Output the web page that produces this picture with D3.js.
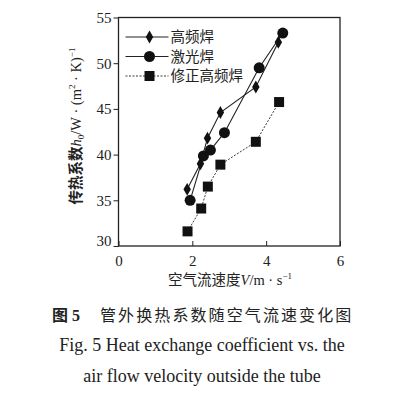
<!DOCTYPE html>
<html>
<head>
<meta charset="utf-8">
<script src="https://cdn.jsdelivr.net/npm/d3@7"></script>
<style>
  body { margin: 0; background: #fff; }
  svg { display: block; }
  text { fill: #222; }
</style>
</head>
<body>
<svg id="chart" width="402" height="395"></svg>
<script>
// series
const hfX = [1.86, 2.22, 2.41, 2.76, 3.72, 4.33];
const hfY = [36.2, 39.0, 41.8, 44.6, 47.4, 52.3];
const laserX = [1.94, 2.30, 2.49, 2.87, 3.81, 4.45];
const laserY = [35.0, 39.85, 40.5, 42.4, 49.5, 53.3];
const modX = [1.87, 2.24, 2.42, 2.76, 3.72, 4.35];
const modY = [31.6, 34.1, 36.5, 38.9, 41.4, 45.75];

const seriesNames = ["高频焊", "激光焊", "修正高频焊"];
const xTicks = [0, 2, 4, 6];
const yTicks = [30, 35, 40, 45, 50, 55];

const margin = { top: 17.5, left: 118.5, right: 62, bottom: 149 };
const W = 402, H = 395;
const width = W - margin.left - margin.right;
const height = H - margin.top - margin.bottom;

const svg = d3.select("#chart");
const serif = "Liberation Serif, DejaVu Serif, serif";
const cjk = "Noto Sans CJK SC, Noto Sans, sans-serif";
const ink = "#222";

const x = d3.scaleLinear().domain([0, 6]).range([0, width]);
const y = d3.scaleLinear().domain([30, 55]).range([height, 0]);

const g = svg.append("g")
    .attr("transform", `translate(${margin.left},${margin.top})`);

// frame
g.append("rect")
    .attr("width", width).attr("height", height)
    .attr("fill", "none").attr("stroke", ink).attr("stroke-width", 1.3);

// x axis, ticks point inward
const xAxis = d3.axisBottom(x).tickValues(xTicks).tickFormat(d3.format("d")).tickSize(-5).tickPadding(9);
const gx = g.append("g").attr("transform", `translate(0,${height})`).call(xAxis);
gx.attr("font-family", serif).attr("font-size", 15);
gx.select(".domain").remove();
gx.selectAll("line").attr("stroke", ink);
gx.selectAll("text").attr("fill", ink);

// y axis, ticks point outward
const yAxis = d3.axisLeft(y).tickValues(yTicks).tickFormat(d3.format("d")).tickSize(5).tickPadding(2);
const gy = g.append("g").call(yAxis);
gy.attr("font-family", serif).attr("font-size", 15);
gy.select(".domain").remove();
gy.selectAll("line").attr("stroke", ink);
gy.selectAll("text").attr("fill", ink)
    .attr("dy", d => d === 30 ? "-0.05em" : "0.32em");

const lineGen = d3.line().x(d => x(d[0])).y(d => y(d[1]));

const hf = hfX.map((v, i) => [v, hfY[i]]);
const laser = laserX.map((v, i) => [v, laserY[i]]);
const mod = modX.map((v, i) => [v, modY[i]]);

function drawLine(data, dash) {
    g.append("path")
        .datum(data)
        .attr("d", lineGen)
        .attr("fill", "none")
        .attr("stroke", ink)
        .attr("stroke-width", dash ? 0.9 : 1.1)
        .attr("stroke-dasharray", dash ? "2,1.5" : null);
}
drawLine(hf, false);
drawLine(laser, false);
drawLine(mod, true);

const diamond = d3.symbol().type(d3.symbolDiamond).size(48);
const circle = d3.symbol().type(d3.symbolCircle).size(95);
const square = d3.symbol().type(d3.symbolSquare).size(100);

function drawMarks(data, sym) {
    g.selectAll(null).data(data).enter().append("path")
        .attr("d", sym)
        .attr("transform", d => `translate(${x(d[0])},${y(d[1])})`)
        .attr("fill", "#111");
}
drawMarks(laser, circle);
drawMarks(hf, diamond);
drawMarks(mod, square);

// legend
const legY = [37, 56.5, 76];
const legSyms = [diamond, circle, square];
seriesNames.forEach((name, i) => {
    const ly = legY[i] - margin.top;
    g.append("line")
        .attr("x1", 7).attr("x2", 50).attr("y1", ly).attr("y2", ly)
        .attr("stroke", ink).attr("stroke-width", i === 2 ? 0.9 : 1.1)
        .attr("stroke-dasharray", i === 2 ? "2,1.5" : null);
    g.append("path").attr("d", legSyms[i])
        .attr("transform", `translate(31,${ly})`).attr("fill", "#111");
    g.append("text")
        .attr("x", 52).attr("y", ly).attr("dy", "0.35em")
        .attr("font-family", cjk).attr("font-size", 14.5)
        .text(name);
});

// axis titles
const xt = svg.append("text")
    .attr("x", 230).attr("y", 285)
    .attr("text-anchor", "middle")
    .attr("font-size", 14.5);
xt.append("tspan").attr("font-family", cjk).text("空气流速度");
xt.append("tspan").attr("font-family", serif).attr("font-style", "italic").text("V");
xt.append("tspan").attr("font-family", serif).text("/m · s");
xt.append("tspan").attr("font-family", serif).attr("font-size", 9).attr("dy", -6).text("−1");

const yt = svg.append("text")
    .attr("transform", "translate(81,126) rotate(-90)")
    .attr("text-anchor", "middle")
    .attr("font-size", 14.5);
yt.append("tspan").attr("font-family", cjk).attr("font-weight", "bold").text("传热系数");
yt.append("tspan").attr("font-family", serif).attr("font-style", "italic").text("h");
yt.append("tspan").attr("font-family", serif).attr("font-size", 9).attr("dy", 3).text("0");
yt.append("tspan").attr("font-family", serif).attr("dy", -3).text("/W · (m");
yt.append("tspan").attr("font-family", serif).attr("font-size", 9).attr("dy", -6).text("2");
yt.append("tspan").attr("font-family", serif).attr("dy", 6).text(" · K)");
yt.append("tspan").attr("font-family", serif).attr("font-size", 9).attr("dy", -6).text("−1");

// caption
const cap = svg.append("text")
    .attr("x", 52).attr("y", 321)
    .attr("font-size", 16);
cap.append("tspan").attr("font-family", cjk).attr("font-weight", "bold").text("图");
cap.append("tspan").attr("font-family", serif).attr("font-weight", "bold").attr("dx", 4).text("5");
cap.append("tspan").attr("font-family", cjk).attr("x", 100).attr("letter-spacing", 2.1)
    .text("管外换热系数随空气流速变化图");

svg.append("text")
    .attr("x", 202).attr("y", 351)
    .attr("text-anchor", "middle")
    .attr("font-family", serif).attr("font-size", 18)
    .text("Fig. 5 Heat exchange coefficient vs. the");
svg.append("text")
    .attr("x", 202).attr("y", 382)
    .attr("text-anchor", "middle")
    .attr("font-family", serif).attr("font-size", 18)
    .text("air flow velocity outside the tube");
</script>
</body>
</html>
